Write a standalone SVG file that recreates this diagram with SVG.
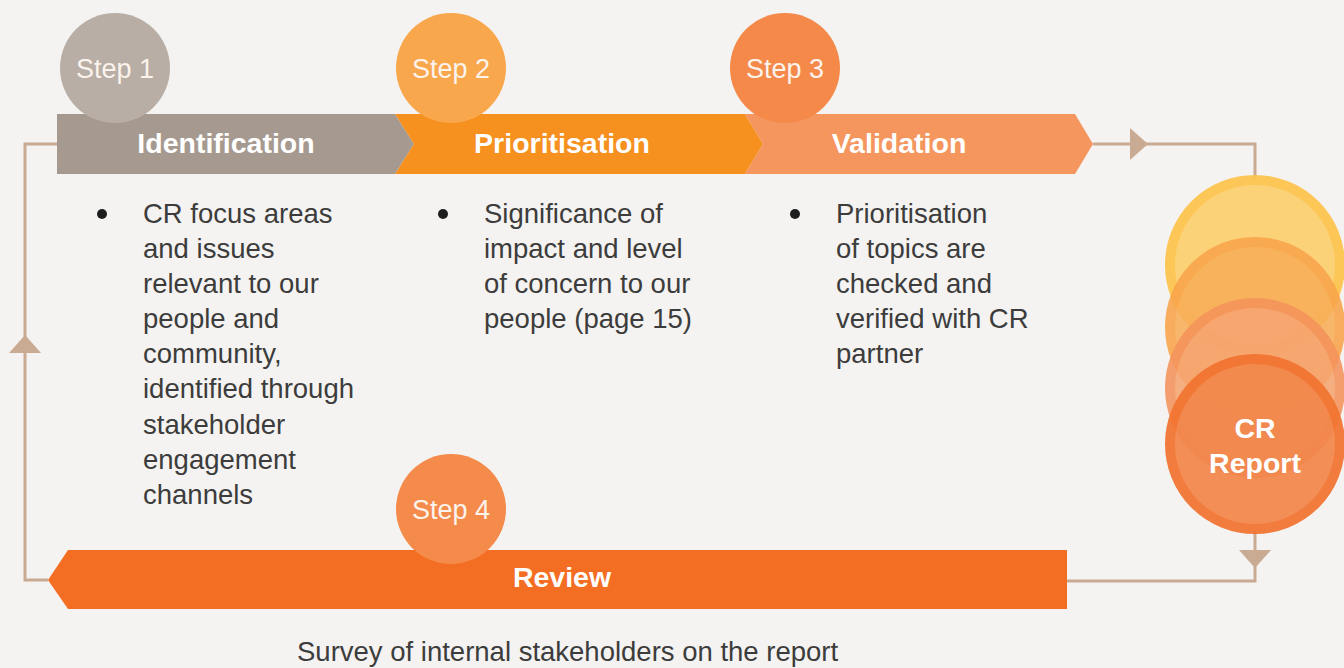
<svg xmlns="http://www.w3.org/2000/svg" width="1344" height="668" viewBox="0 0 1344 668">
<style>
.step{font-family:"Liberation Sans",Arial,sans-serif;font-size:27px;fill:#fbf3ec;text-anchor:middle}
.title{font-family:"Liberation Sans",Arial,sans-serif;font-size:28.5px;font-weight:bold;fill:#ffffff;text-anchor:middle}
.body{font-family:"Liberation Sans",Arial,sans-serif;font-size:27.5px;fill:#3c3c3c}
.conn{fill:none;stroke:#c9aa92;stroke-width:3}
.head{fill:#c9aa92}
.bullet{fill:#1e1e1e}
</style>
<rect width="1344" height="668" fill="#f4f3f1"/>
<g id="connectors">
<path class="conn" d="M1093 144 H1255 V178"/>
<polygon class="head" points="1130,128 1148,144 1130,160"/>
<path class="conn" d="M1255 532 V581 H1067"/>
<polygon class="head" points="1239,550 1271,550 1255,568"/>
<path class="conn" d="M48 580 H25 V144 H57"/>
<polygon class="head" points="9,353 41,353 25,335"/>
</g>
<g id="identification">
<polygon points="57,114 395,114 414,144 395,174 57,174" fill="#a6998f"/>
<text class="title" x="226" y="153">Identification</text>
</g>
<g id="prioritisation">
<polygon points="395,114 745,114 763,144 745,174 395,174 414,144" fill="#f6901f"/>
<text class="title" x="562" y="153">Prioritisation</text>
</g>
<g id="validation">
<polygon points="745,114 1075,114 1093,144 1075,174 745,174 763,144" fill="#f5965e"/>
<text class="title" x="899" y="153">Validation</text>
</g>
<g id="review">
<polygon points="68,550 1067,550 1067,609 68,609 48,580" fill="#f36e22"/>
<text class="title" x="562" y="587">Review</text>
</g>
<g id="step1">
<circle cx="115" cy="68" r="55" fill="#b8aea5"/>
<text class="step" x="115" y="78">Step 1</text>
</g>
<g id="step2">
<circle cx="451" cy="68" r="55" fill="#f9a74c"/>
<text class="step" x="451" y="78">Step 2</text>
</g>
<g id="step3">
<circle cx="785" cy="68" r="55" fill="#f4894a"/>
<text class="step" x="785" y="78">Step 3</text>
</g>
<g id="step4">
<circle cx="451" cy="509" r="55" fill="#f58b4b"/>
<text class="step" x="451" y="519">Step 4</text>
</g>
<g id="text-identification">
<circle class="bullet" cx="102" cy="214" r="5"/>
<text class="body" x="143" y="223">CR focus areas</text>
<text class="body" x="143" y="258">and issues</text>
<text class="body" x="143" y="293">relevant to our</text>
<text class="body" x="143" y="328">people and</text>
<text class="body" x="143" y="363">community,</text>
<text class="body" x="143" y="398">identified through</text>
<text class="body" x="143" y="434">stakeholder</text>
<text class="body" x="143" y="469">engagement</text>
<text class="body" x="143" y="504">channels</text>
</g>
<g id="text-prioritisation">
<circle class="bullet" cx="443" cy="214" r="5"/>
<text class="body" x="484" y="223">Significance of</text>
<text class="body" x="484" y="258">impact and level</text>
<text class="body" x="484" y="293">of concern to our</text>
<text class="body" x="484" y="328">people (page 15)</text>
</g>
<g id="text-validation">
<circle class="bullet" cx="795" cy="214" r="5"/>
<text class="body" x="836" y="223">Prioritisation</text>
<text class="body" x="836" y="258">of topics are</text>
<text class="body" x="836" y="293">checked and</text>
<text class="body" x="836" y="328">verified with CR</text>
<text class="body" x="836" y="363">partner</text>
</g>
<g id="cr-report">
<circle cx="1255" cy="265" r="85" fill="#fdd06f" stroke="#fec44c" stroke-width="10" opacity="0.92"/>
<circle cx="1255" cy="327" r="85" fill="#f8ae58" stroke="#f9a44a" stroke-width="10" opacity="0.88"/>
<circle cx="1255" cy="388" r="85" fill="#f6a571" stroke="#f5935c" stroke-width="10" opacity="0.88"/>
<circle cx="1255" cy="444" r="85" fill="#f2874b" stroke="#f27430" stroke-width="10" opacity="0.93"/>
<text class="title" x="1255" y="438">CR</text>
<text class="title" x="1255" y="473">Report</text>
</g>
<g id="survey">
<text class="body" x="297" y="661">Survey of internal stakeholders on the report</text>
</g>
</svg>
